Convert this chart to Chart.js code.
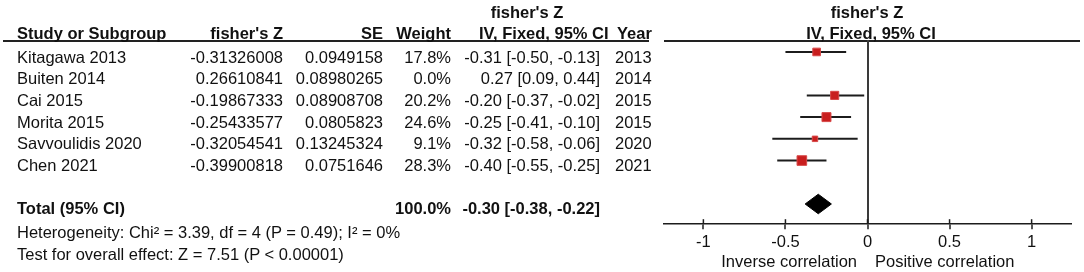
<!DOCTYPE html>
<html>
<head>
<meta charset="utf-8">
<script src="https://cdn.jsdelivr.net/npm/chart.js@4.4.1/dist/chart.umd.min.js"></script>
<style>
  html, body { margin: 0; padding: 0; background: #fff; }
  #page { position: relative; width: 1084px; height: 272px; overflow: hidden;
          font: 16.5px "Liberation Sans", Arial, sans-serif; color: #111; }
  #page .t { position: absolute; line-height: 20px; white-space: nowrap; }
  #page .b { font-weight: bold; }
  .rule { position: absolute; height: 2px; background: #222; }
  #forest { position: absolute; left: 0; top: 0; }
</style>
</head>
<body>
<div id="page">
  <div class="rule" style="left:3px;width:646px;top:40px"></div>
  <div class="rule" style="left:664px;width:416px;top:40px"></div>
  <canvas id="forest" width="1084" height="272"></canvas>
</div>
<script>
// study table
const STUDIES  = ['Kitagawa 2013', 'Buiten 2014', 'Cai 2015', 'Morita 2015', 'Savvoulidis 2020', 'Chen 2021'];
const FISHER_Z = [-0.31326008, 0.26610841, -0.19867333, -0.25433577, -0.32054541, -0.39900818];
const SE       = [0.0949158, 0.08980265, 0.08908708, 0.0805823, 0.13245324, 0.0751646];
const WEIGHT   = [17.8, 0.0, 20.2, 24.6, 9.1, 28.3];
const EST      = [-0.31, 0.27, -0.20, -0.25, -0.32, -0.40];
const CI_LO    = [-0.50, 0.09, -0.37, -0.41, -0.58, -0.55];
const CI_HI    = [-0.13, 0.44, -0.02, -0.10, -0.06, -0.25];
const YEARS    = [2013, 2014, 2015, 2015, 2020, 2021];

// pooled result
const TOTAL_WEIGHT = 100.0;
const TOTAL_EST = -0.30;
const TOTAL_LO  = -0.38;
const TOTAL_HI  = -0.22;
const TOTAL_ROW = 7;

// x axis
const X_MIN = -1.24, X_MAX = 1.24;
const TICK_VALUES = [-1, -0.5, 0, 0.5, 1];
const TICK_LABELS = ['-1', '-0.5', '0', '0.5', '1'];

const HETERO_TEXT = 'Heterogeneity: Chi\u00b2 = 3.39, df = 4 (P = 0.49); I\u00b2 = 0%';
const EFFECT_TEXT = 'Test for overall effect: Z = 7.51 (P < 0.00001)';

const LINE = '#1c1c1c';
const MARKER = '#c81e1e';
const ROW_TOP0 = 46.5, ROW_H = 21.74;
const MARKER_K = 1.28;
const DIAMOND_HALF = 0.45;

const page = document.getElementById('page');
function txt(s, o) {
  const d = document.createElement('div');
  d.className = 't' + (o.bold ? ' b' : '');
  d.textContent = s;
  d.style.top = o.top + 'px';
  if (o.left != null) d.style.left = o.left + 'px';
  if (o.right != null) d.style.right = (1084 - o.right) + 'px';
  if (o.center != null) { d.style.left = o.center + 'px'; d.style.transform = 'translateX(-50%)'; }
  page.appendChild(d);
}
const f2 = v => v.toFixed(2);
const ciText = (e, lo, hi) => f2(e) + ' [' + f2(lo) + ', ' + f2(hi) + ']';

// headers
txt("fisher's Z", { top: 2, center: 527, bold: true });
txt("fisher's Z", { top: 2, center: 867, bold: true });
txt('Study or Subgroup', { top: 22.5, left: 17, bold: true });
txt("fisher's Z", { top: 22.5, right: 283, bold: true });
txt('SE', { top: 22.5, right: 383, bold: true });
txt('Weight', { top: 22.5, right: 451, bold: true });
txt('IV, Fixed, 95% CI', { top: 22.5, left: 479, bold: true });
txt('Year', { top: 22.5, left: 617, bold: true });
txt('IV, Fixed, 95% CI', { top: 22.5, center: 871, bold: true });

// rows
STUDIES.forEach((s, i) => {
  const top = ROW_TOP0 + i * ROW_H;
  txt(s, { top, left: 17 });
  txt(String(FISHER_Z[i]), { top, right: 283 });
  txt(String(SE[i]), { top, right: 383 });
  txt(WEIGHT[i].toFixed(1) + '%', { top, right: 451 });
  txt(ciText(EST[i], CI_LO[i], CI_HI[i]), { top, right: 600 });
  txt(String(YEARS[i]), { top, left: 615 });
});

txt('Total (95% CI)', { top: 198, left: 17, bold: true });
txt(TOTAL_WEIGHT.toFixed(1) + '%', { top: 198, right: 451, bold: true });
txt(ciText(TOTAL_EST, TOTAL_LO, TOTAL_HI), { top: 198, right: 600, bold: true });
txt(HETERO_TEXT, { top: 222, left: 17 });
txt(EFFECT_TEXT, { top: 243.5, left: 17 });
txt('Inverse correlation', { top: 250.5, right: 857 });
txt('Positive correlation', { top: 250.5, left: 875 });

// chart datasets
const shown = STUDIES.map((s, i) => i).filter(i => WEIGHT[i] > 0);

const markerSet = {
  type: 'line', showLine: false, order: 0,
  data: shown.map(i => ({ x: EST[i], y: i, w: WEIGHT[i] })),
  pointStyle: 'rect',
  pointRadius: c => MARKER_K * Math.sqrt(c.raw.w),
  backgroundColor: MARKER, borderColor: '#d84848', borderWidth: 1,
};

const ciSets = shown.map(i => ({
  type: 'line', order: 1,
  data: [{ x: CI_LO[i], y: i }, { x: CI_HI[i], y: i }],
  borderColor: LINE, borderWidth: 2, pointRadius: 0,
}));

const diamondSet = {
  type: 'line', order: 0,
  data: [
    { x: TOTAL_LO, y: TOTAL_ROW },
    { x: TOTAL_EST, y: TOTAL_ROW - DIAMOND_HALF },
    { x: TOTAL_HI, y: TOTAL_ROW },
    { x: TOTAL_EST, y: TOTAL_ROW + DIAMOND_HALF },
    { x: TOTAL_LO, y: TOTAL_ROW },
  ],
  borderColor: '#000', backgroundColor: '#000', borderWidth: 1,
  fill: 'shape', tension: 0, pointRadius: 0,
};

// tick marks cross the axis line, so draw the upper half too
const tickCross = {
  id: 'tickCross',
  afterDraw(chart) {
    const sc = chart.scales.x, c = chart.ctx, yb = chart.chartArea.bottom;
    c.save();
    c.strokeStyle = LINE; c.lineWidth = 1.5;
    sc.ticks.forEach(t => {
      const x = sc.getPixelForValue(t.value);
      c.beginPath(); c.moveTo(x, yb - 5); c.lineTo(x, yb); c.stroke();
    });
    c.restore();
  },
};

new Chart(document.getElementById('forest'), {
  type: 'line',
  data: { datasets: [markerSet, diamondSet, ...ciSets] },
  options: {
    responsive: false, animation: false, devicePixelRatio: 1,
    layout: { padding: { left: 664, right: 13, top: 40, bottom: 17 } },
    plugins: { legend: { display: false }, tooltip: { enabled: false } },
    scales: {
      x: {
        type: 'linear', min: X_MIN, max: X_MAX,
        afterBuildTicks: sc => { sc.ticks = TICK_VALUES.map(v => ({ value: v })); },
        ticks: {
          color: '#111', padding: 3,
          font: { family: '"Liberation Sans", Arial, sans-serif', size: 16.5 },
          callback: (v, i) => TICK_LABELS[i],
        },
        grid: {
          color: c => (c.tick && c.tick.value === 0 ? '#3a3a3a' : 'rgba(0,0,0,0)'),
          lineWidth: 2, tickLength: 5, tickColor: LINE, tickWidth: 1.5,
        },
        border: { display: true, color: LINE, width: 1.5 },
      },
      y: { type: 'linear', min: -0.55, max: 7.93, reverse: true, display: false },
    },
  },
  plugins: [tickCross],
});
</script>
</body>
</html>
